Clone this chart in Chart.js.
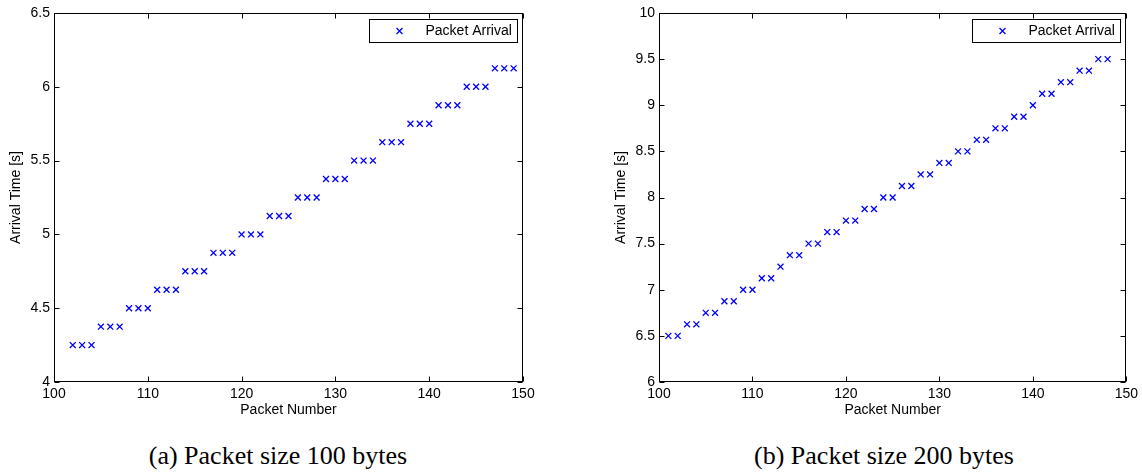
<!DOCTYPE html>
<html>
<head>
<meta charset="utf-8">
<script src="https://cdn.jsdelivr.net/npm/chart.js@4"></script>
<style>
  html, body { margin: 0; padding: 0; background: #fff; }
  #wrap { position: relative; width: 1142px; height: 472px; background: #fff; overflow: hidden; }
  .cv { position: absolute; top: 0; }
  .cap { position: absolute; font-family: "Liberation Serif", "Times New Roman", serif; font-size: 26px; color: #000; white-space: nowrap; transform: translateX(-50%); line-height: 1; }
</style>
</head>
<body>
<div id="wrap">
  <canvas id="c1" class="cv" width="571" height="422" style="left:0px"></canvas>
  <canvas id="c2" class="cv" width="537" height="422" style="left:605px"></canvas>
  <div class="cap" style="left:278px; top:443px">(a) Packet size 100 bytes</div>
  <div class="cap" style="left:884px; top:443px">(b) Packet size 200 bytes</div>
</div>
<script>
// ---- data ----
const packetA = [102,103,104,105,106,107,108,109,110,111,112,113,114,115,116,117,118,119,120,121,122,123,124,125,126,127,128,129,130,131,132,133,134,135,136,137,138,139,140,141,142,143,144,145,146,147,148,149];
const arrivalA = [4.25,4.25,4.25,4.375,4.375,4.375,4.5,4.5,4.5,4.625,4.625,4.625,4.75,4.75,4.75,4.875,4.875,4.875,5,5,5,5.125,5.125,5.125,5.25,5.25,5.25,5.375,5.375,5.375,5.5,5.5,5.5,5.625,5.625,5.625,5.75,5.75,5.75,5.875,5.875,5.875,6,6,6,6.125,6.125,6.125];
const packetB = [101,102,103,104,105,106,107,108,109,110,111,112,113,114,115,116,117,118,119,120,121,122,123,124,125,126,127,128,129,130,131,132,133,134,135,136,137,138,139,140,141,142,143,144,145,146,147,148];
const arrivalB = [6.5,6.5,6.625,6.625,6.75,6.75,6.875,6.875,7,7,7.125,7.125,7.25,7.375,7.375,7.5,7.5,7.625,7.625,7.75,7.75,7.875,7.875,8,8,8.125,8.125,8.25,8.25,8.375,8.375,8.5,8.5,8.625,8.625,8.75,8.75,8.875,8.875,9,9.125,9.125,9.25,9.25,9.375,9.375,9.5,9.5];
const xRange = [100, 150];
const yRangeA = [4, 6.5];
const yRangeB = [6, 10];
const seriesLabel = "Packet Arrival";
const xTitle = "Packet Number";
const yTitle = "Arrival Time [s]";

const FONT = "'Liberation Sans', Arial, Helvetica, sans-serif";
const BLUE = '#0000ff';

const framePlugin = {
  id: 'frame',
  afterDraw(chart) {
    const { ctx, chartArea: a, scales } = chart;
    const x = scales.x, y = scales.y;
    const L = Math.round(a.left) + 0.5, R = Math.round(a.right) - 0.5;
    const T = Math.round(a.top) + 0.5, B = Math.round(a.bottom) - 0.5;
    ctx.save();
    ctx.strokeStyle = '#000';
    ctx.lineWidth = 1;
    ctx.strokeRect(L, T, R - L, B - T);
    const tl = 5;
    ctx.beginPath();
    x.ticks.forEach(t => {
      const px = Math.round(x.getPixelForValue(t.value)) + 0.5;
      ctx.moveTo(px, B); ctx.lineTo(px, B - tl);
      ctx.moveTo(px, T); ctx.lineTo(px, T + tl);
    });
    y.ticks.forEach(t => {
      const py = Math.round(y.getPixelForValue(t.value)) + 0.5;
      ctx.moveTo(L, py); ctx.lineTo(L + tl, py);
      ctx.moveTo(R, py); ctx.lineTo(R - tl, py);
    });
    ctx.stroke();
    // legend box
    const bw = 148, bh = 23;
    const bx = Math.round(a.right - 6 - bw) + 0.5, by = Math.round(a.top + 6) + 0.5;
    ctx.fillStyle = '#fff';
    ctx.fillRect(bx, by, bw, bh);
    ctx.strokeRect(bx, by, bw, bh);
    const ds = chart.data.datasets[0];
    ctx.strokeStyle = BLUE;
    ctx.fillStyle = BLUE;
    ctx.lineWidth = 1.3;
    Chart.helpers.drawPoint(ctx, { pointStyle: 'crossRot', radius: 4.2, rotation: 0, borderWidth: 1.3 }, bx + 30, by + bh / 2);
    ctx.fillStyle = '#000';
    ctx.font = "14px " + FONT;
    ctx.textBaseline = 'middle';
    ctx.textAlign = 'left';
    ctx.fillText(ds.label, bx + 56, by + bh / 2 + 0.5);
    ctx.restore();
  }
};

const fmt = v => String(Number(v.toFixed(3)));

function makeChart(id, xs, ys, xr, yr, padRight) {
  const pts = xs.map((v, i) => ({ x: v, y: ys[i] }));
  return new Chart(document.getElementById(id), {
    type: 'scatter',
    data: {
      datasets: [{
        label: seriesLabel,
        data: pts,
        pointStyle: 'crossRot',
        pointRadius: 4.2,
        pointHoverRadius: 4.2,
        borderColor: BLUE,
        backgroundColor: BLUE,
        pointBorderWidth: 1.3,
        showLine: false
      }]
    },
    options: {
      responsive: false,
      animation: false,
      devicePixelRatio: 1,
      layout: { padding: { left: 0, top: 13, right: padRight, bottom: 0 } },
      plugins: { legend: { display: false }, tooltip: { enabled: false } },
      events: [],
      scales: {
        x: {
          type: 'linear',
          min: xr[0], max: xr[1],
          ticks: { stepSize: 10, color: '#000', font: { family: FONT, size: 14 }, padding: 4, maxRotation: 0, callback: fmt },
          grid: { display: false, drawTicks: false },
          border: { display: false },
          title: { display: true, text: xTitle, color: '#000', font: { family: FONT, size: 14 }, padding: { top: 0, bottom: 3 } },
          afterFit(s) { s.height = 40; }
        },
        y: {
          type: 'linear',
          min: yr[0], max: yr[1],
          ticks: { stepSize: 0.5, color: '#000', font: { family: FONT, size: 14 }, padding: 4, callback: fmt },
          grid: { display: false, drawTicks: false },
          border: { display: false },
          title: { display: true, text: yTitle, color: '#000', font: { family: FONT, size: 14 }, padding: { top: 8, bottom: 0 } },
          afterFit(s) { s.width = 54; }
        }
      }
    },
    plugins: [framePlugin]
  });
}

makeChart('c1', packetA, arrivalA, xRange, yRangeA, 48);
makeChart('c2', packetB, arrivalB, xRange, yRangeB, 14);
</script>
</body>
</html>
